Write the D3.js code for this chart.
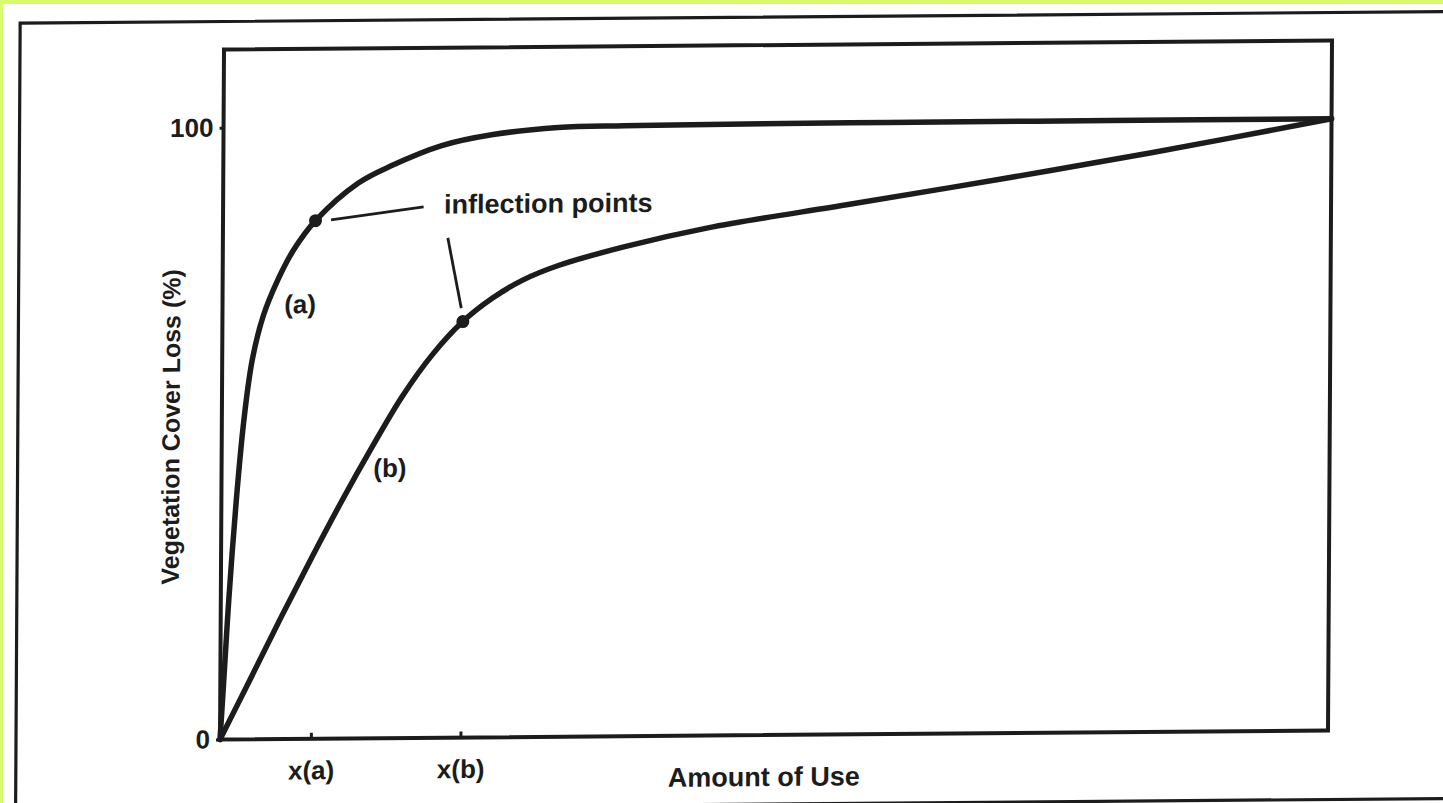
<!DOCTYPE html>
<html>
<head>
<meta charset="utf-8">
<script src="https://cdn.jsdelivr.net/npm/d3@7"></script>
<style>
  body { margin: 0; background: #fff; }
  svg { display: block; }
  text { font-family: "Liberation Sans", Arial, Helvetica, sans-serif; font-weight: bold; fill: #1c1c1c; }
</style>
</head>
<body>
<svg id="chart"></svg>
<script>
// curve (a): cover loss rises fast
const useA  = [0, 0.27, 0.72, 1.35, 1.99, 2.71, 3.7, 4.96, 6.41, 8.35, 12.2, 15.2, 19.7, 24.2, 30.2, 36.2, 43.8, 60, 80, 100];
const lossA = [0, 8.4, 22.8, 39.2, 52.2, 62.0, 69.3, 75.0, 80.0, 84.7, 90.8, 93.6, 96.8, 98.5, 99.6, 99.8, 99.9, 100, 100, 100];

// curve (b): slower loss
const useB  = [0, 2.71, 5.42, 8.12, 10.83, 13.54, 16.25, 18.95, 21.7, 24.37, 27.08, 30.23, 36.19, 43.77, 56.68, 70.22, 83.75, 100];
const lossB = [0, 9.85, 19.8, 29.4, 38.7, 47.5, 55.8, 62.6, 68.0, 71.8, 74.7, 77.0, 80.0, 83.0, 86.7, 90.6, 94.7, 100];

// inflection points on (a) and (b)
const inflectionUse  = [8.35, 21.7];
const inflectionLoss = [84.7, 68.0];

const xTickValues = [8.2, 21.7];
const xTickLabels = ["x(a)", "x(b)"];
const yTickValues = [0, 100];

const width = 1443;
const height = 803;
const plot = { left: 222, right: 1330, top: 45, bottom: 735 };
const ink = "#1c1c1c";

const svg = d3.select("#chart")
  .attr("width", width)
  .attr("height", height);

// green page edge + white paper
svg.append("rect").attr("width", width).attr("height", height).attr("fill", "#d6fb6c");
svg.append("rect").attr("x", 3).attr("y", 4).attr("width", width).attr("height", height).attr("fill", "#fff");

// the scan is slightly skewed
const g = svg.append("g")
  .attr("transform", `matrix(1,-0.0081,-0.0058,1,${0.0058 * 390},${0.0081 * 776})`);

const x = d3.scaleLinear().domain([0, 100]).range([plot.left, plot.right]);
const y = d3.scaleLinear().domain([0, 112.8]).range([plot.bottom, plot.top]);

// outer frame
g.append("rect")
  .attr("x", 18).attr("y", 17)
  .attr("width", 1460).attr("height", 787)
  .attr("fill", "none")
  .attr("stroke", ink)
  .attr("stroke-width", 3.2);

// plot box
g.append("rect")
  .attr("x", plot.left).attr("y", plot.top)
  .attr("width", plot.right - plot.left).attr("height", plot.bottom - plot.top)
  .attr("fill", "none")
  .attr("stroke", ink)
  .attr("stroke-width", 4);

// axes
const xAxis = g.append("g")
  .attr("transform", `translate(0,${plot.bottom})`)
  .call(d3.axisBottom(x)
    .tickValues(xTickValues)
    .tickFormat((d, i) => xTickLabels[i])
    .tickSizeInner(-6)
    .tickSizeOuter(0)
    .tickPadding(22));
xAxis.select(".domain").remove();
xAxis.selectAll("line").attr("stroke", ink).attr("stroke-width", 3);
xAxis.selectAll("text")
  .attr("fill", ink)
  .style("font-size", "26px")
  .style("font-family", null);

const yAxis = g.append("g")
  .attr("transform", `translate(${plot.left},0)`)
  .call(d3.axisLeft(y)
    .tickValues(yTickValues)
    .tickSizeInner(4)
    .tickSizeOuter(0)
    .tickPadding(6));
yAxis.select(".domain").remove();
yAxis.selectAll("line").attr("stroke", ink).attr("stroke-width", 3);
yAxis.selectAll("text")
  .attr("fill", ink)
  .style("font-size", "26px")
  .style("font-family", null);

// axis titles
g.append("text")
  .attr("x", (plot.left + plot.right) / 2 - 10)
  .attr("y", 786)
  .attr("text-anchor", "middle")
  .style("font-size", "27px")
  .text("Amount of Use");

g.append("text")
  .attr("transform", "translate(171,422) rotate(-90)")
  .attr("text-anchor", "middle")
  .attr("dy", "0.35em")
  .style("font-size", "25px")
  .text("Vegetation Cover Loss (%)");

// curves
const line = d3.line()
  .x(d => x(d[0]))
  .y(d => y(d[1]))
  .curve(d3.curveCatmullRom.alpha(0.5));

const curves = [d3.zip(useA, lossA), d3.zip(useB, lossB)];

g.selectAll(".curve")
  .data(curves)
  .enter()
  .append("path")
  .attr("class", "curve")
  .attr("d", line)
  .attr("fill", "none")
  .attr("stroke", ink)
  .attr("stroke-width", 5.5)
  .attr("stroke-linejoin", "round")
  .attr("stroke-linecap", "round");

// inflection dots
g.selectAll(".dot")
  .data(d3.zip(inflectionUse, inflectionLoss))
  .enter()
  .append("circle")
  .attr("class", "dot")
  .attr("cx", d => x(d[0]))
  .attr("cy", d => y(d[1]))
  .attr("r", 6.5)
  .attr("fill", ink);

// annotation leaders
const leaders = [
  [[9.75, 84.8], [18.1, 86.8]],
  [[20.3, 81.7], [21.55, 70.2]]
];
g.selectAll(".leader")
  .data(leaders)
  .enter()
  .append("line")
  .attr("class", "leader")
  .attr("x1", d => x(d[0][0])).attr("y1", d => y(d[0][1]))
  .attr("x2", d => x(d[1][0])).attr("y2", d => y(d[1][1]))
  .attr("stroke", ink)
  .attr("stroke-width", 2.8);

g.append("text")
  .attr("x", x(19.95))
  .attr("y", y(85.7))
  .style("font-size", "27px")
  .text("inflection points");

// curve names
const names = [["(a)", 7.0, 69.6], ["(b)", 15.2, 42.7]];
g.selectAll(".name")
  .data(names)
  .enter()
  .append("text")
  .attr("class", "name")
  .attr("x", d => x(d[1]))
  .attr("y", d => y(d[2]))
  .attr("text-anchor", "middle")
  .style("font-size", "26px")
  .text(d => d[0]);
</script>
</body>
</html>
